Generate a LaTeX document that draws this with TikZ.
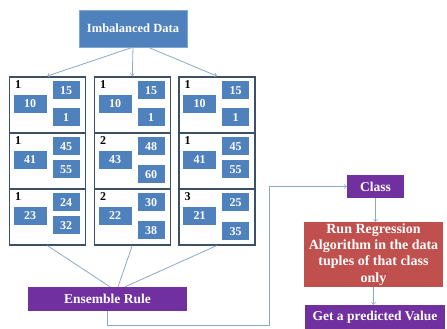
\documentclass[tikz,border=0pt]{standalone}
\usepackage{fontspec}
\setmainfont{Liberation Serif}
\usepackage{tikz}
\definecolor{boxblue}{RGB}{79,129,189}
\definecolor{frameblue}{RGB}{60,80,104}
\definecolor{linkblue}{RGB}{140,168,200}
\definecolor{tagpurple}{RGB}{112,48,160}
\definecolor{boxred}{RGB}{192,80,77}

\begin{document}
\begin{tikzpicture}[x=1pt,y=-1pt,font=\bfseries\fontsize{12}{14}\selectfont,
  cell/.style={draw=frameblue,line width=1.6pt,minimum width=76pt,minimum height=56pt,inner sep=0,anchor=north west},
  num/.style={fill=boxblue,text=white,inner sep=0,minimum height=18pt,anchor=north west},
  link/.style={draw=linkblue,line width=0.8pt},
  tag/.style={fill=tagpurple,text=white,inner sep=0,font=\bfseries\fontsize{13.5}{16}\selectfont}]
  \useasboundingbox (0,0) rectangle (447,329);

  \node[fill=boxblue,draw=boxblue!70!white,text=white,minimum width=108pt,minimum height=37pt,
    font=\bfseries\fontsize{12.5}{15}\selectfont] (imb) at (133,28.5) {Imbalanced Data};

  % three columns of three cells each
  \foreach \c/\r/\L/\T/\lab/\a/\b/\d/\dy in {
      1/1/8.5/76/1/15/10/1/32,   2/1/93.5/76/1/15/10/1/32,   3/1/178/76/1/15/10/1/32,
      1/2/8.5/132/1/45/41/55/28, 2/2/93.5/132/2/48/43/60/33, 3/2/178/132/1/45/41/55/28,
      1/3/8.5/188/1/24/23/32/28, 2/3/93.5/188/2/30/22/38/33, 3/3/178/188/3/25/21/35/34}
  {
    \node[cell] (cell-\c-\r) at (\L,\T) {};
    \node[anchor=north west,inner sep=0] (lab-\c-\r) at (\L+6.5,\T+4) {\lab};
    \node[num,minimum width=27pt] (up-\c-\r) at (\L+44,\T+5) {\a};
    \node[num,minimum width=33pt] (left-\c-\r) at (\L+5,\T+18.5) {\b};
    \node[num,minimum width=27pt] (low-\c-\r) at (\L+44,\T+\dy) {\d};
  }

  \draw[link,->] (imb.south) -- (cell-1-1.north);
  \draw[link,->] (imb.south) -- (cell-2-1.north);
  \draw[link,->] ([xshift=15pt]imb.south) -- (cell-3-1.north);

  \node[tag,minimum width=159pt,minimum height=24pt] (ens) at (107.5,299) {Ensemble Rule};
  \draw[link] (cell-1-3.south) -- ([xshift=2.5pt]ens.north);
  \draw[link] (cell-2-3.south) -- ([xshift=10.5pt]ens.north);
  \draw[link] (cell-3-3.south) -- ([xshift=17.5pt]ens.north);

  \node[tag,minimum width=57pt,minimum height=23pt] (cls) at (375.5,186.5) {Class};
  \node[fill=boxred,text=white,align=center,inner sep=0,minimum width=139pt,minimum height=65pt,
    font=\bfseries\fontsize{14}{16.3}\selectfont] (run) at (373.5,254.5)
    {Run Regression\\Algorithm in the data\\tuples of that class\\only};
  \node[tag,minimum width=140pt,minimum height=24pt] (pred) at (375,317) {Get a predicted Value};

  \coordinate (turn) at (269,325);
  \draw[link,->] (ens.south) |- (turn) |- (cls.west);
  \draw[link,->] (cls.south) -- (cls.south |- run.north);
  \draw[link,->] (run.south) -- (run.south |- pred.north);
\end{tikzpicture}
\end{document}
